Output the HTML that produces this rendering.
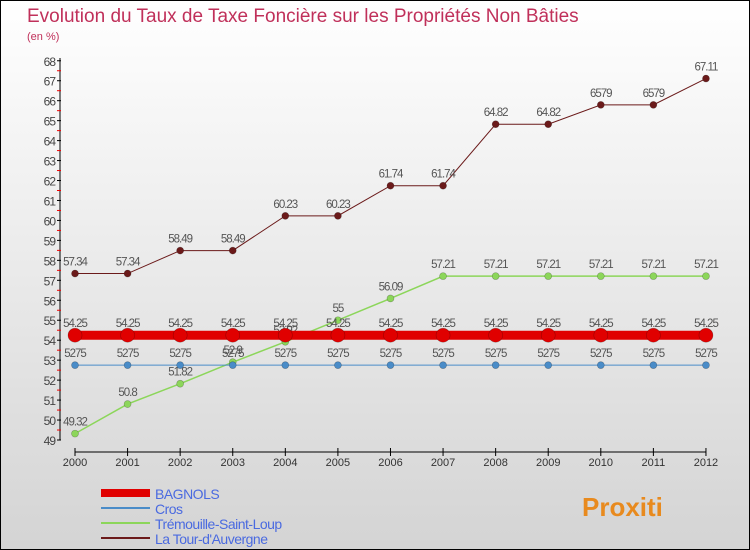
<!DOCTYPE html>
<html><head><meta charset="utf-8"><style>
body{margin:0;width:750px;height:550px;overflow:hidden;font-family:"Liberation Sans",sans-serif}
#c{position:absolute;left:0;top:0;width:748px;height:548px;border:1px solid #000;background:linear-gradient(#fff,#d4d4d4)}
</style></head><body>
<div id="c">
<svg id="s" width="750" height="550" style="position:absolute;left:-1px;top:-1px"></svg>
</div>
<script>
const years=[2000,2001,2002,2003,2004,2005,2006,2007,2008,2009,2010,2011,2012];
const bagnols=[54.25,54.25,54.25,54.25,54.25,54.25,54.25,54.25,54.25,54.25,54.25,54.25,54.25];
const cros=[52.75,52.75,52.75,52.75,52.75,52.75,52.75,52.75,52.75,52.75,52.75,52.75,52.75];
const tremo=[49.32,50.8,51.82,52.9,53.92,55,56.09,57.21,57.21,57.21,57.21,57.21,57.21];
const tour=[57.34,57.34,58.49,58.49,60.23,60.23,61.74,61.74,64.82,64.82,65.79,65.79,67.11];
const yTicks=[49,50,51,52,53,54,55,56,57,58,59,60,61,62,63,64,65,66,67,68];
const lab=v=>String(v).replace('.','');
const X=i=>75+i*52.58, Y=v=>440-(v-49)*19.96;
const s=document.getElementById('s');const NS='http://www.w3.org/2000/svg';
function el(t,a,p,txt){const e=document.createElementNS(NS,t);for(const k in a)e.setAttribute(k,a[k]);if(txt!=null)e.textContent=txt;(p||s).appendChild(e);return e;}
let t=el('text',{x:27,y:22,'font-size':19,fill:'#c0305a'},null,'Evolution du Taux de Taxe Foncière sur les Propriétés Non Bâties');


t=el('text',{x:27,y:40,'font-size':11,fill:'#c0305a'},null,'(en %)');


let ax=el('line',{x1:60,y1:58,x2:60,y2:440,stroke:'#000'});


yTicks.forEach(v=>{el('line',{x1:57,x2:61,y1:Y(v),y2:Y(v),stroke:'#000'});
 if(v<68)el('line',{x1:57,x2:61,y1:Y(v+0.5),y2:Y(v+0.5),stroke:'#e00'});
 const tt=el('text',{x:55,y:Y(v)+5,'font-size':12,fill:'#444','text-anchor':'end','letter-spacing':'-1'},null,v);
 
 });
ax=el('line',{x1:75,y1:452,x2:706,y2:452,stroke:'#000'});


years.forEach((y,i)=>{el('line',{x1:X(i),x2:X(i),y1:448,y2:456,stroke:'#000'});
 const tt=el('text',{x:X(i),y:466,'font-size':11,fill:'#333','text-anchor':'middle'},null,y);
 
 });
function series(d,color,w,r,name,labels){
 const pl=el('polyline',{points:d.map((v,i)=>X(i)+','+Y(v)).join(' '),fill:'none',stroke:color,'stroke-width':w});
 
 
 d.forEach((v,i)=>{const c=el('circle',{cx:X(i),cy:Y(v),r:r,fill:color,stroke:'rgba(0,0,0,0.3)','stroke-width':0.6});
  
  
  const tt=el('text',{x:X(i),y:Y(v)-8,'font-size':11.5,fill:'#555','text-anchor':'middle','letter-spacing':'-1'},null,labels(v));
  
  });
}
series(tremo,'#8cd65a',1.5,3.5,'tremouille',v=>String(v));
series(cros,'#4a8cc8',1,3.5,'cros',v=>lab(v));
series(bagnols,'#e00000',9,7,'bagnols',v=>String(v));
series(tour,'#6b1a1a',1,3.5,'tour',v=>v===65.79?lab(v):String(v));
const leg=[['BAGNOLS','#e00000',8],['Cros','#4a8cc8',2],['Trémouille-Saint-Loup','#8cd65a',2],['La Tour-d\'Auvergne','#6b1a1a',2]];
leg.forEach((l,i)=>{const y=493+i*15;
 const ln=el('line',{x1:101,x2:150,y1:y,y2:y,stroke:l[1],'stroke-width':l[2]});
 
 
 const tt=el('text',{x:155,y:y+6,'font-size':14,fill:'#4a6ae0','letter-spacing':'-0.5'},null,l[0]);
 
 });
t=el('text',{x:582,y:516,'font-size':26,'font-weight':'bold',fill:'#e88a1e'},null,'Proxiti');


</script>
</body></html>
